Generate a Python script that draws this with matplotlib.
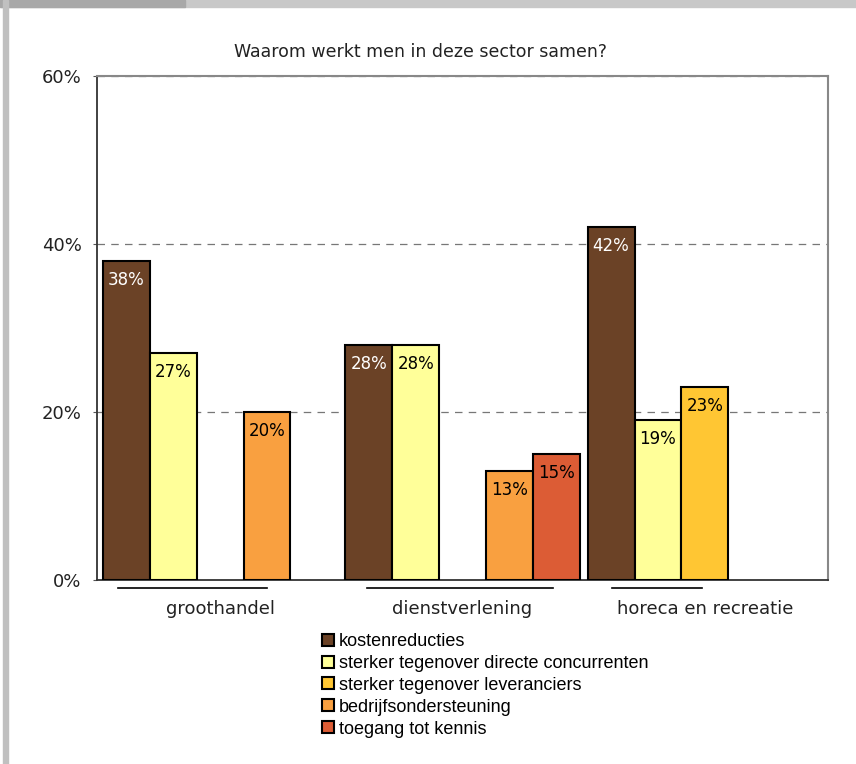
import matplotlib.pyplot as plt
import matplotlib.patches as mpatches
import numpy as np

# data
sectors = ['groothandel', 'dienstverlening', 'horeca en recreatie']
reasons = ['kostenreducties', 'sterker tegenover directe concurrenten',
           'sterker tegenover leveranciers', 'bedrijfsondersteuning',
           'toegang tot kennis']
values = [
    [38, 28, 42],      # kostenreducties
    [27, 28, 19],      # sterker tegenover directe concurrenten
    [None, None, 23],  # sterker tegenover leveranciers
    [20, 13, None],    # bedrijfsondersteuning
    [None, 15, None],  # toegang tot kennis
]
colors = ['#6B4226', '#FFFF99', '#FFC633', '#F9A040', '#DC5C35']
label_colors = ['white', 'black', 'black', 'black', 'black']
yticks = [0, 20, 40, 60]
# underline under each sector label (start/end in bar-slot units within the group)
underlines = [(0.32, 3.49), (0.47, 4.43), (0.53, 2.45)]

plt.rcParams['font.family'] = ['DejaVu Sans']

fig = plt.figure(figsize=(8.56, 7.64), dpi=100)
ax = fig.add_axes([97 / 856, 1 - 580 / 764, 731 / 856, 504 / 764])

# window-like grey border
fig.patches.append(mpatches.Rectangle((0, 1 - 7 / 764), 1, 7 / 764, transform=fig.transFigure,
                                      color='#c8c8c8', zorder=0))
fig.patches.append(mpatches.Rectangle((0, 1 - 7 / 764), 185 / 856, 7 / 764, transform=fig.transFigure,
                                      color='#a8a8a8', zorder=0))
fig.patches.append(mpatches.Rectangle((3 / 856, 0), 5 / 856, 1, transform=fig.transFigure,
                                      color='#c0c0c0', zorder=0))

edge = 0.128
gap = 0.17
group_start = [edge + g * (5 + gap) for g in range(len(sectors))]

for i, (reason, vals) in enumerate(zip(reasons, values)):
    for g, v in enumerate(vals):
        if v is None:
            continue
        x = group_start[g] + i
        ax.bar(x, v, width=1.0, align='edge', color=colors[i], edgecolor='black',
               linewidth=1.5, zorder=3)
        ax.annotate(f'{v}%', (x + 0.5, v), xytext=(0, -7), textcoords='offset points',
                    ha='center', va='top', fontsize=12, color=label_colors[i], zorder=4)

# legend handles
handles = [mpatches.Patch(facecolor=c, edgecolor='black', linewidth=1.5) for c in colors]
fig.legend(handles, reasons, loc='upper left', bbox_to_anchor=(313 / 856, 1 - 624 / 764),
           frameon=False, handlelength=0.65, handleheight=0.65,
           handletextpad=0.3, labelspacing=0.27, borderpad=0,
           prop={'family': ['Liberation Sans', 'DejaVu Sans'], 'size': 13})

total = 2 * edge + 3 * 5 + 2 * gap
ax.set_xlim(0, total)
ax.set_ylim(0, 60)
ax.set_yticks(yticks)
ax.set_yticklabels([f'{t}%' for t in yticks], fontsize=13, color='#222222')
ax.tick_params(axis='y', direction='out', length=3, color='#555555', pad=8)
ax.set_xticks([])
ax.yaxis.grid(True, linestyle=(0, (6, 5)), color='#777777', linewidth=0.9, zorder=1)

for s in ['top', 'right']:
    ax.spines[s].set_color('#888888')
    ax.spines[s].set_linewidth(1.5)
for s in ['left', 'bottom']:
    ax.spines[s].set_color('#333333')
    ax.spines[s].set_linewidth(1.3)

# sector labels with underline
for g, name in enumerate(sectors):
    cx = group_start[g] + 2.5
    ax.text(cx, -3.4, name, ha='center', va='center', fontsize=13, color='#222222',
            clip_on=False)
    a, b = underlines[g]
    ax.plot([group_start[g] + a, group_start[g] + b], [-1.0, -1.0], color='black',
            linewidth=1.2, clip_on=False)

fig.text(421 / 856, 1 - 52 / 764,
         'Waarom werkt men in deze sector samen?', ha='center', va='center',
         fontsize=12.5, color='#222222')

fig.savefig('out.png', dpi=100)
